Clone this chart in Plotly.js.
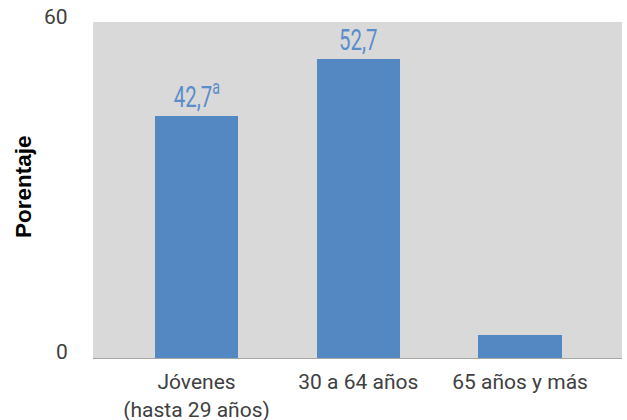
<!DOCTYPE html>
<html>
<head>
<meta charset="utf-8">
<script src="https://cdn.plot.ly/plotly-3.0.1.min.js"></script>
<style>html,body{margin:0;padding:0;background:#fff;}#chart{width:627px;height:420px;}</style>
</head>
<body>
<div id="chart"></div>
<script>
const categories = ["Jóvenes<br>(hasta 29 años)", "30 a 64 años", "65 años y más"];
const values = [42.7, 52.7, 4.1];
const valueLabels = ["42,7<sup>a</sup>", "52,7", ""];
const yTickValues = [0, 60];
const yTickLabels = ["0", "60"];
const yTitle = "Porentaje";
const yMax = 59.3;

const xIdx = categories.map((c, i) => i);

const annotations = [];
values.forEach((v, i) => {
  if (valueLabels[i]) {
    annotations.push({
      x: i, y: v, xref: 'x', yref: 'y',
      text: valueLabels[i], showarrow: false,
      yanchor: 'bottom', yshift: 0,
      font: {family: 'Roboto, sans-serif', size: 30, color: '#5b8dcb'}
    });
  }
});
yTickValues.forEach((v, i) => {
  const inRange = v <= yMax;
  annotations.push({
    x: 0, xref: 'paper',
    y: inRange ? v : 1, yref: inRange ? 'y' : 'paper',
    text: yTickLabels[i], showarrow: false,
    xanchor: 'right', xshift: -23, yanchor: 'middle', yshift: inRange ? 6 : 5.5,
    font: {family: 'Roboto, sans-serif', size: 21, color: '#404040'}
  });
});
annotations.push({
  x: 0, xref: 'paper', xanchor: 'center', xshift: -70,
  y: 0.5, yref: 'paper', yanchor: 'middle', yshift: 3,
  text: '<b>' + yTitle + '</b>', textangle: -90, showarrow: false,
  font: {family: 'Liberation Sans, Arial, sans-serif', size: 22.5, color: '#000'}
});

const trace = {
  type: 'bar',
  x: xIdx,
  y: values,
  width: 0.515,
  marker: {color: '#5388c3'},
  hoverinfo: 'none'
};

const layout = {
  width: 627, height: 420,
  margin: {l: 93, r: 5, t: 22, b: 62},
  paper_bgcolor: '#ffffff',
  plot_bgcolor: '#d9d9d9',
  showlegend: false,
  bargap: 0,
  xaxis: {
    range: [-0.64, 2.63],
    tickvals: xIdx, ticktext: categories,
    showgrid: false, zeroline: false,
    showline: true, linecolor: '#a6a6a6', linewidth: 1,
    ticks: '', ticklabelstandoff: 5,
    tickfont: {family: 'Roboto, sans-serif', size: 21, color: '#404040'},
    fixedrange: true
  },
  yaxis: {
    range: [0, yMax],
    showgrid: false, zeroline: false, showline: false,
    showticklabels: false, ticks: '',
    fixedrange: true
  },
  annotations: annotations
};

Plotly.newPlot('chart', [trace], layout, {displayModeBar: false, staticPlot: true}).then(() => {
  // condense the data-label text horizontally to mimic the narrow label typeface
  const groups = document.querySelectorAll('#chart .annotation');
  let k = 0;
  valueLabels.forEach((lbl) => {
    if (!lbl) return;
    const g = groups[k++];
    if (!g) return;
    const t = g.querySelector('text.annotation-text');
    if (!t) return;
    const bb = t.getBBox();
    const cx = bb.x + bb.width / 2;
    const prev = t.getAttribute('transform') || '';
    t.setAttribute('transform', `translate(${cx},0) scale(0.68,1) translate(${-cx},0) ` + prev);
  });
});
</script>
</body>
</html>
